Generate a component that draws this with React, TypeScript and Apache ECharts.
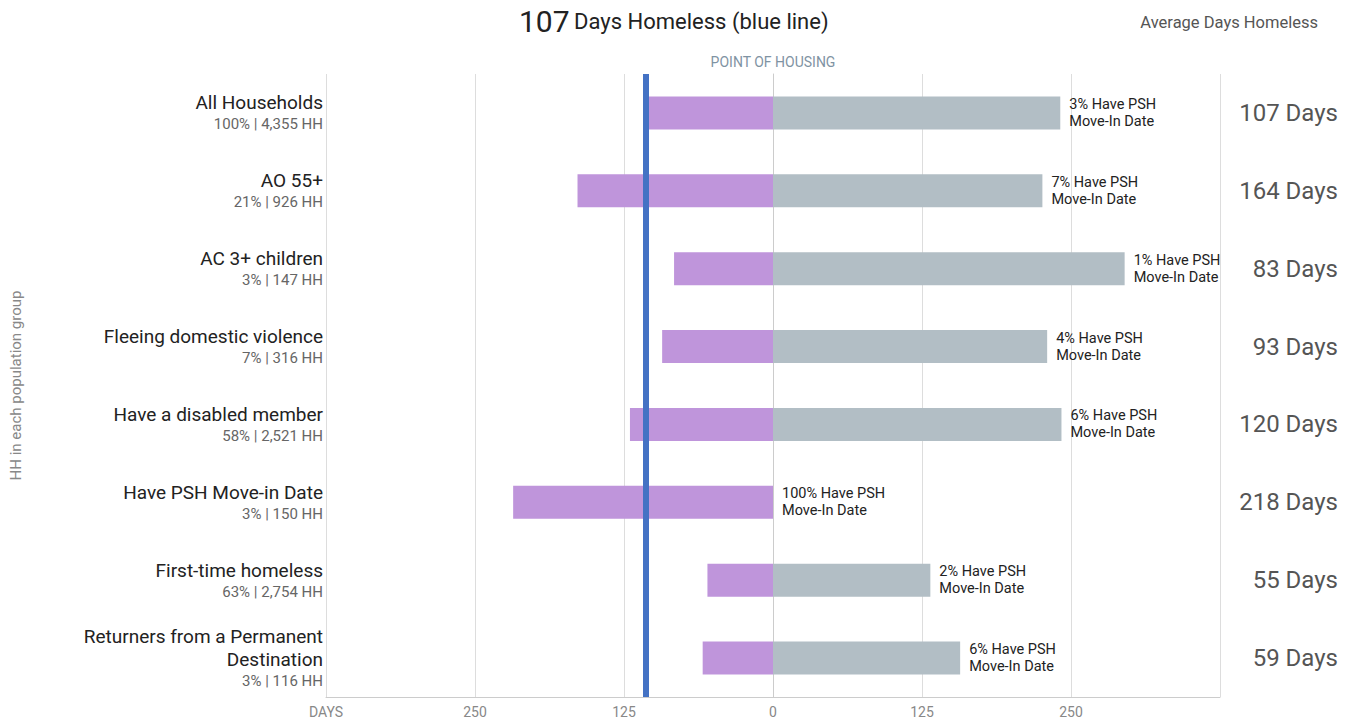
import React, { useEffect, useRef } from "react";
import * as echarts from "echarts";

const groups = [
  "All Households",
  "AO 55+",
  "AC 3+ children",
  "Fleeing domestic violence",
  "Have a disabled member",
  "Have PSH Move-in Date",
  "First-time homeless",
  "Returners from a Permanent\nDestination",
];
const groupSubs = [
  "100% | 4,355 HH",
  "21% | 926 HH",
  "3% | 147 HH",
  "7% | 316 HH",
  "58% | 2,521 HH",
  "3% | 150 HH",
  "63% | 2,754 HH",
  "3% | 116 HH",
];
const avgDays = [107, 164, 83, 93, 120, 218, 55, 59];
const grayValues = [241, 226, 295, 230, 242, 0, 132, 157];
const pshPct = [3, 7, 1, 4, 6, 100, 2, 6];
const overallDays = 107;
const xTicks = [-375, -250, -125, 0, 125, 250, 375];

export default function App() {
  const ref = useRef<HTMLDivElement>(null);
  useEffect(() => {
    const chart = echarts.init(ref.current!, null, { renderer: "svg" });
    const font = "Roboto";
    chart.setOption({
      animation: false,
      textStyle: { fontFamily: font },
      title: [
        {
          text: `{big|${overallDays}} {small|Days Homeless (blue line)}`,
          left: 514,
          top: 1,
          textStyle: {
            rich: {
              big: { fontSize: 30, color: "#222", fontFamily: font, fontWeight: "normal" },
              small: { fontSize: 22, color: "#222", fontFamily: font, fontWeight: "normal" },
            },
          },
        },
        {
          text: "Average Days Homeless",
          right: 30,
          top: 9,
          textStyle: { fontSize: 16.5, color: "#555", fontWeight: "normal", fontFamily: font },
        },
      ],
      grid: { left: 326, right: 133, top: 74, bottom: 24 },
      xAxis: {
        type: "value",
        min: xTicks[0],
        max: xTicks[xTicks.length - 1],
        interval: 125,
        axisLine: { show: true, lineStyle: { color: "#ccc" } },
        axisTick: { show: false },
        splitLine: { show: true, lineStyle: { color: "#ddd" } },
        axisLabel: {
          color: "#888",
          fontSize: 14,
          margin: 8,
          formatter: (v: number) =>
            v === xTicks[0] ? "DAYS" : v === xTicks[xTicks.length - 1] ? "" : String(Math.abs(v)),
        },
      },
      yAxis: [
        {
          type: "category",
          inverse: true,
          data: groups,
          name: "HH in each population group",
          nameLocation: "middle",
          nameGap: 303,
          nameRotate: 90,
          nameTextStyle: { color: "#888", fontSize: 15 },
          axisLine: { show: true, lineStyle: { color: "#ccc" } },
          axisTick: { show: false },
          axisLabel: {
            margin: 3,
            align: "right",
            formatter: (v: string, i: number) => {
              const lines = v.split("\n").map((l) => `{a|${l}}`).join("\n");
              return `${lines}\n{b|${groupSubs[i]}}`;
            },
            rich: {
              a: { fontSize: 19, color: "#222", lineHeight: 23, align: "right", fontFamily: font },
              b: { fontSize: 15, color: "#666", lineHeight: 20, align: "right", fontFamily: font },
            },
          },
        },
        {
          type: "category",
          inverse: true,
          position: "right",
          data: avgDays.map((d) => `${d} Days`),
          axisLine: { show: false },
          axisTick: { show: false },
          axisLabel: { margin: 118, align: "right", fontSize: 24, color: "#555" },
        },
      ],
      series: [
        {
          type: "bar",
          barWidth: 33,
          barGap: "-100%",
          data: avgDays.map((d) => -d),
          itemStyle: { color: "#BF95DB" },
          markLine: {
            symbol: "none",
            silent: true,
            z: 5,
            data: [
              {
                xAxis: -overallDays,
                lineStyle: { color: "#4472C4", width: 6, type: "solid" },
                label: { show: false },
              },
              {
                xAxis: 0,
                lineStyle: { color: "rgba(0,0,0,0)", width: 0 },
                label: {
                  show: true,
                  position: "start",
                  formatter: "POINT OF HOUSING",
                  color: "#7f93a3",
                  fontSize: 14,
                  distance: 5,
                },
              },
            ],
          },
        },
        {
          type: "bar",
          barWidth: 33,
          barGap: "-100%",
          data: grayValues,
          itemStyle: { color: "#B2BEC5" },
          label: {
            show: true,
            position: "right",
            distance: 9,
            color: "#222",
            fontSize: 14.5,
            lineHeight: 17,
            align: "left",
            formatter: (p: any) => `${pshPct[p.dataIndex]}% Have PSH\nMove-In Date`,
          },
        },
      ],
    });
    return () => chart.dispose();
  }, []);
  return (
    <div
      ref={ref}
      style={{ position: "absolute", left: 0, top: 0, width: 1353, height: 721 }}
    />
  );
}
